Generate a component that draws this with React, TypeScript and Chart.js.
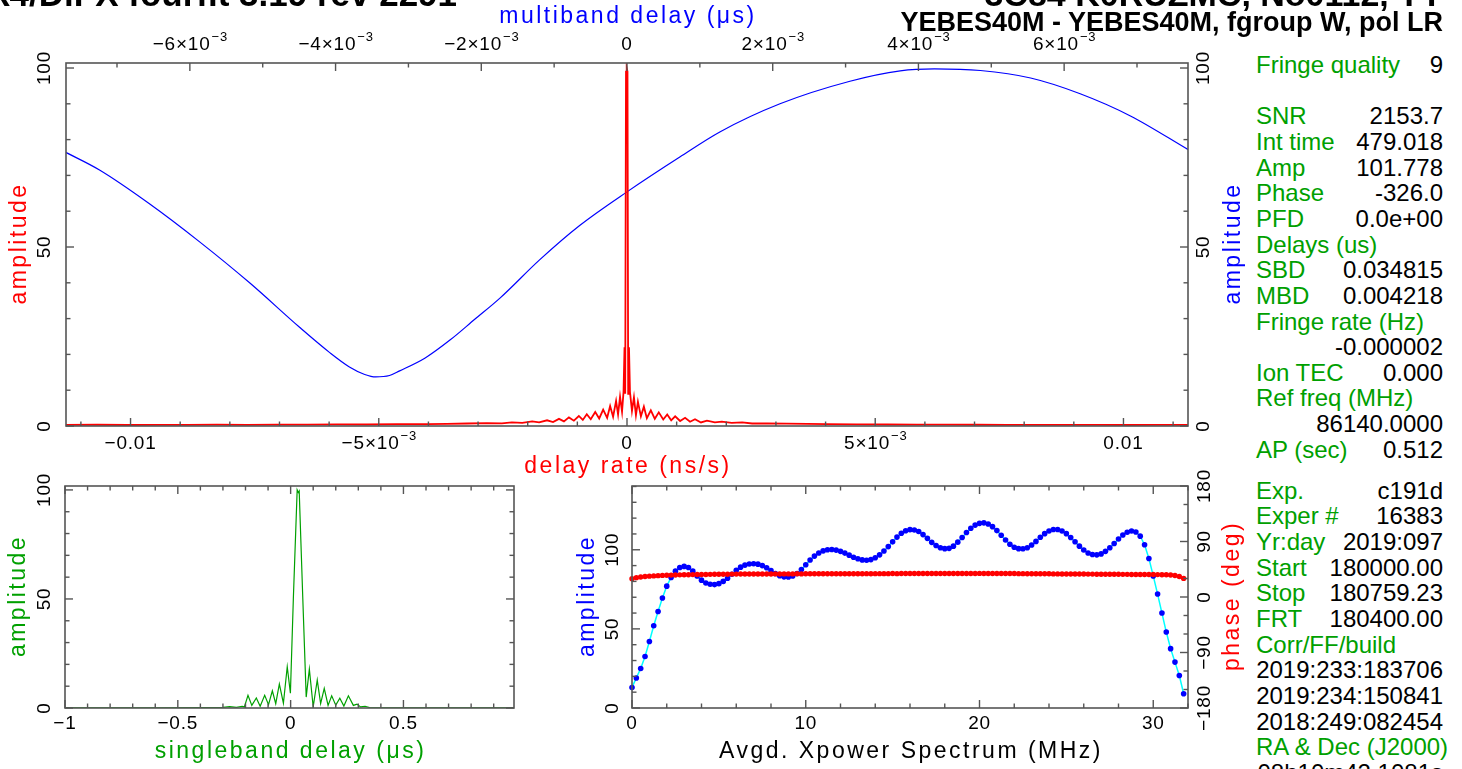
import React, { useEffect, useRef } from "react";
import { Chart, registerables } from "chart.js";

Chart.register(...registerables);

// ---------------- data ----------------
// delay-rate spectrum (ns/s vs amplitude), red
const rateX = [-0.0113, -0.01067, -0.01007, -0.00947, -0.00886, -0.00826, -0.00765, -0.00705, -0.00644, -0.00584, -0.00524, -0.00463, -0.00403, -0.00363, -0.00322, -0.00282, -0.00252, -0.00232, -0.00211, -0.00191, -0.00177, -0.00161, -0.00149, -0.00137, -0.00127, -0.00117, -0.00107, -0.00097, -0.00089, -0.00081, -0.00073, -0.00064, -0.00056, -0.00048, -0.0004, -0.00034, -0.00028, -0.00022, -0.00018, -0.00014, -0.0001, -0.00007, -0.00005, -0.000036, -0.00002, -0.000006, 0.00001, 0.000024, 0.00004, 0.00006, 0.0001, 0.00014, 0.00018, 0.00022, 0.00028, 0.00034, 0.0004, 0.00048, 0.00056, 0.00064, 0.00073, 0.00081, 0.00089, 0.00097, 0.00107, 0.00117, 0.00127, 0.00137, 0.00149, 0.00161, 0.00177, 0.00191, 0.00211, 0.00232, 0.00252, 0.00282, 0.00322, 0.00363, 0.00403, 0.00463, 0.00524, 0.00584, 0.00644, 0.00705, 0.00765, 0.00826, 0.00886, 0.00947, 0.01007, 0.01067, 0.0113];
const rateAmp = [0.3, 0.35, 0.28, 0.33, 0.3, 0.36, 0.32, 0.4, 0.38, 0.45, 0.42, 0.5, 0.55, 0.6, 0.7, 0.8, 0.75, 1.0, 0.9, 1.3, 1.0, 1.6, 1.1, 2.0, 1.3, 2.4, 1.5, 2.8, 1.7, 3.3, 1.9, 3.9, 2.1, 4.6, 2.3, 5.6, 2.6, 7.0, 3.2, 8.2, 4.0, 9.5, 22, 9, 99, 100, 99, 9, 22, 9.5, 4.2, 8.0, 3.0, 6.8, 2.7, 5.4, 2.2, 4.4, 2.0, 3.8, 1.8, 3.2, 1.6, 2.7, 1.4, 2.3, 1.2, 1.9, 1.0, 1.5, 1.0, 1.2, 0.9, 1.0, 0.7, 0.75, 0.65, 0.6, 0.5, 0.48, 0.42, 0.4, 0.36, 0.35, 0.32, 0.33, 0.3, 0.3, 0.28, 0.3, 0.3];

// multiband delay function (µs vs amplitude), blue
const mbdX = [-0.00771, -0.00724, -0.00655, -0.00587, -0.00518, -0.00449, -0.00408, -0.00381, -0.0036, -0.00345, -0.00326, -0.00312, -0.00277, -0.00243, -0.00209, -0.00174, -0.0012, -0.00065, 0, 0.00073, 0.00128, 0.0021, 0.00306, 0.00375, 0.00422, 0.00485, 0.00554, 0.00622, 0.00691, 0.00771];
const mbdAmp = [76.5, 71.5, 62, 51.5, 40, 27.5, 20.5, 16.5, 14.4, 13.7, 14.1, 15.4, 19.0, 24.0, 29.8, 35.8, 46.4, 56, 65.4, 75.2, 82.2, 90, 96.3, 99.2, 99.75, 99.3, 97.2, 92.8, 86.6, 77.1];

// singleband delay function (µs vs amplitude), green
const sbdX = [-1.0, -0.6, -0.4, -0.3, -0.27, -0.24, -0.215, -0.205, -0.189, -0.172, -0.152, -0.135, -0.115, -0.098, -0.081, -0.066, -0.05, -0.032, -0.015, -0.001, 0.012, 0.029, 0.034, 0.038, 0.054, 0.069, 0.083, 0.1, 0.118, 0.133, 0.149, 0.166, 0.182, 0.2, 0.218, 0.236, 0.256, 0.278, 0.294, 0.31, 0.33, 0.35, 0.45, 0.7, 0.99];
const sbdAmp = [0.1, 0.1, 0.2, 0.3, 0.6, 0.3, 0.8, 0.5, 5.8, 1.2, 4.6, 0.8, 5.8, 1.5, 7.9, 2.0, 11.0, 2.2, 18.9, 6.8, 50, 100, 98.8, 99.5, 50, 5, 17.8, 0.6, 12.8, 2, 9, 1.2, 5.6, 1.3, 4.5, 0.9, 5.6, 1.2, 1.8, 0.5, 0.8, 0.2, 0.1, 0.1, 0.1];

// averaged cross-power spectrum, 0.25 MHz bins
const specStep = 0.25;
const specAmp = [
  13, 19, 25, 32.5, 42, 52, 61, 69.5, 77, 82.5, 86.5, 88.8, 89.5, 88.8, 86.5, 83.5,
  80.8, 79, 78.2, 78, 78.6, 80, 82, 84.5, 87, 89, 90.3, 91, 91.2, 90.9, 90, 88.6,
  86.8, 85, 83.6, 82.9, 82.8, 83.5, 85, 87.5, 90.5, 93.5, 96, 98, 99.3, 100, 100.2, 99.8,
  99, 97.9, 96.6, 95.3, 94.3, 93.6, 93.4, 93.8, 95, 96.8, 99.2, 102, 105, 108, 110.4, 112,
  112.7, 112.5, 111.5, 109.6, 107.2, 104.7, 102.7, 101.3, 100.7, 100.9, 102.3, 104.8, 107.8, 110.9, 113.6, 115.6,
  116.7, 117, 116.3, 114.6, 112.1, 109.2, 106.2, 103.5, 101.6, 100.7, 100.6, 101.3, 103, 105.3, 107.9, 110.2,
  111.9, 112.8, 112.8, 111.9, 110.2, 107.8, 105.1, 102.3, 99.9, 98, 97, 96.8, 97.4, 99, 101.3, 104,
  106.8, 109.3, 111.1, 111.9, 111.2, 108.6, 103.2, 94.5, 83.5, 72, 60, 48, 37.5, 29, 20.5, 9
];
const specPhase = [
  29.6, 31.4, 32.5, 33.2, 33.8, 34.2, 34.6, 35.0, 35.3,
  35.5, 35.7, 35.9, 36.0, 36.2, 36.3, 36.4, 36.5, 36.6, 36.7, 36.8, 36.9,
  36.9, 37.0, 37.1, 37.1, 37.2, 37.2, 37.3, 37.3, 37.3, 37.4, 37.4, 37.4, 37.5, 37.4, 37.5, 37.5, 37.5, 37.6, 37.5, 37.6,
  37.6, 37.6, 37.7, 37.6, 37.7, 37.7, 37.7, 37.8, 37.7, 37.8, 37.8, 37.8, 37.8, 37.9, 37.8, 37.9, 37.9, 37.9, 37.9, 38.0,
  37.9, 38.0, 38.0, 38.0, 38.0, 38.1, 38.0, 38.1, 38.1, 38.1, 38.1, 38.1, 38.2, 38.1, 38.2, 38.2, 38.2, 38.2, 38.2, 38.3,
  38.2, 38.2, 38.2, 38.1, 38.1, 38.1, 38.0, 38.0, 37.9, 37.9, 37.8, 37.8, 37.7, 37.7, 37.6, 37.6, 37.5, 37.5, 37.4, 37.4,
  37.3, 37.3, 37.2, 37.2, 37.1, 37.1, 37.0, 37.0, 36.9, 36.9, 36.8, 36.8, 36.7, 36.7, 36.6, 36.6, 36.5, 36.5, 36.4, 36.4,
  36.3, 36.2, 36.1, 35.6, 34.8, 33.3, 30.2
];
const specFreq = specAmp.map((_, i) => i * specStep);

// tick labels ("^" marks a superscript)
const rateTickValues = [-0.01, -0.005, 0, 0.005, 0.01];
const rateTickLabels = ["\u22120.01", "\u22125\u00d710^\u22123", "0", "5\u00d710^\u22123", "0.01"];
const mbdTickValues = [-0.006, -0.004, -0.002, 0, 0.002, 0.004, 0.006];
const mbdTickLabels = ["\u22126\u00d710^\u22123", "\u22124\u00d710^\u22123", "\u22122\u00d710^\u22123", "0", "2\u00d710^\u22123", "4\u00d710^\u22123", "6\u00d710^\u22123"];
const ampTickValues = [0, 50, 100];
const ampTickLabels = ["0", "50", "100"];
const sbdTickValues = [-1, -0.5, 0, 0.5];
const sbdTickLabels = ["\u22121", "\u22120.5", "0", "0.5"];
const freqTickValues = [0, 10, 20, 30];
const freqTickLabels = ["0", "10", "20", "30"];
const phaseTickValues = [-180, -90, 0, 90, 180];
const phaseTickLabels = ["\u2212180", "\u221290", "0", "90", "180"];

// right-hand text panel
const panelLabels = ["Fringe quality", "SNR", "Int time", "Amp", "Phase", "PFD", "Delays (us)", "SBD", "MBD", "Fringe rate (Hz)", "", "Ion TEC", "Ref freq (MHz)", "", "AP (sec)", "Exp.", "Exper #", "Yr:day", "Start", "Stop", "FRT", "Corr/FF/build", "", "", "", "RA & Dec (J2000)", ""];
const panelValues = ["9", "2153.7", "479.018", "101.778", "-326.0", "0.0e+00", "", "0.034815", "0.004218", "", "-0.000002", "0.000", "", "86140.0000", "0.512", "c191d", "16383", "2019:097", "180000.00", "180759.23", "180400.00", "", "2019:233:183706", "2019:234:150841", "2018:249:082454", "", "08h10m42.1081s"];
const panelSlots = [0, 2, 3, 4, 5, 6, 7, 8, 9, 10, 11, 12, 13, 14, 15, 16.6, 17.6, 18.6, 19.6, 20.6, 21.6, 22.6, 23.6, 24.6, 25.6, 26.6, 27.6];

const headerLeft = "Mk4/DiFX fourfit 3.19 rev 2291";
const headerRight1 = "3C84 K0RUZMC, No0112, YY";
const headerRight2 = "YEBES40M - YEBES40M, fgroup W, pol LR";

// ---------------- styles ----------------
const GREEN = "#00a000";
const FRAME = "#555555";
const FONT_FAMILY = '"Liberation Sans", Arial, sans-serif';
const TICK_FONT = "19px " + FONT_FAMILY;
const SUP_FONT = "13px " + FONT_FAMILY;
const TITLE_FONT = "23px " + FONT_FAMILY;

type Edge = "top" | "bottom" | "left" | "right";
type AxisSpec = {
  scale: string;
  edge: Edge;
  major: number;
  minor: number;
  values?: number[];
  labels?: string[];
  labelGap?: number;
  title?: string;
  titleColor?: string;
  titleGap?: number;
};

function drawTickLabel(ctx: CanvasRenderingContext2D, text: string, x: number, y: number, rotate: boolean) {
  const parts = text.split("^");
  const base = parts[0];
  const sup = parts[1];
  ctx.save();
  ctx.translate(x, y);
  if (rotate) ctx.rotate(-Math.PI / 2);
  (ctx as any).letterSpacing = "0.8px";
  ctx.font = TICK_FONT;
  const wb = ctx.measureText(base).width;
  let ws = 0;
  if (sup) {
    ctx.font = SUP_FONT;
    ws = ctx.measureText(sup).width;
  }
  const start = -(wb + ws) / 2;
  ctx.textAlign = "left";
  ctx.textBaseline = "middle";
  ctx.fillStyle = "#000";
  ctx.font = TICK_FONT;
  ctx.fillText(base, start, 1);
  if (sup) {
    ctx.font = SUP_FONT;
    ctx.fillText(sup, start + wb + 1, -7);
  }
  ctx.restore();
}

function drawTitle(ctx: CanvasRenderingContext2D, text: string, x: number, y: number, rotate: boolean, color: string) {
  ctx.save();
  ctx.translate(x, y);
  if (rotate) ctx.rotate(-Math.PI / 2);
  (ctx as any).letterSpacing = "2.5px";
  ctx.font = TITLE_FONT;
  ctx.fillStyle = color;
  ctx.textAlign = "center";
  ctx.textBaseline = "middle";
  ctx.fillText(text, 1, 0);
  ctx.restore();
}

function makeAxesPlugin(id: string, axes: AxisSpec[]) {
  return {
    id,
    afterDraw(chart: any) {
      const ctx: CanvasRenderingContext2D = chart.ctx;
      const a = chart.chartArea;
      ctx.save();
      ctx.strokeStyle = FRAME;
      ctx.lineWidth = 1.6;
      ctx.strokeRect(a.left, a.top, a.right - a.left, a.bottom - a.top);
      for (const ax of axes) {
        const s = chart.scales[ax.scale];
        const k0 = Math.ceil(s.min / ax.minor - 1e-6);
        const k1 = Math.floor(s.max / ax.minor + 1e-6);
        ctx.lineWidth = 1.4;
        for (let k = k0; k <= k1; k++) {
          const v = k * ax.minor;
          const r = v / ax.major;
          const isMajor = Math.abs(r - Math.round(r)) < 1e-6;
          const len = isMajor ? 8 : 4.5;
          const p = s.getPixelForValue(v);
          ctx.beginPath();
          if (ax.edge === "bottom") { ctx.moveTo(p, a.bottom); ctx.lineTo(p, a.bottom - len); }
          else if (ax.edge === "top") { ctx.moveTo(p, a.top); ctx.lineTo(p, a.top + len); }
          else if (ax.edge === "left") { ctx.moveTo(a.left, p); ctx.lineTo(a.left + len, p); }
          else { ctx.moveTo(a.right, p); ctx.lineTo(a.right - len, p); }
          ctx.stroke();
        }
        if (ax.values && ax.labels) {
          const g = ax.labelGap || 16;
          ax.values.forEach((v, i) => {
            const p = s.getPixelForValue(v);
            const t = ax.labels![i];
            if (ax.edge === "bottom") drawTickLabel(ctx, t, p, a.bottom + g, false);
            else if (ax.edge === "top") drawTickLabel(ctx, t, p, a.top - g, false);
            else if (ax.edge === "left") drawTickLabel(ctx, t, a.left - g, p, true);
            else drawTickLabel(ctx, t, a.right + g, p, true);
          });
        }
        if (ax.title) {
          const g = ax.titleGap || 44;
          const cx = (a.left + a.right) / 2;
          const cy = (a.top + a.bottom) / 2;
          const c = ax.titleColor || "#000";
          if (ax.edge === "bottom") drawTitle(ctx, ax.title, cx, a.bottom + g, false, c);
          else if (ax.edge === "top") drawTitle(ctx, ax.title, cx, a.top - g, false, c);
          else if (ax.edge === "left") drawTitle(ctx, ax.title, a.left - g, cy, true, c);
          else drawTitle(ctx, ax.title, a.right + g, cy, true, c);
        }
      }
      ctx.restore();
    },
  };
}

const baseOptions = (padding: any, scales: any) => ({
  responsive: false,
  maintainAspectRatio: false,
  animation: false,
  devicePixelRatio: 1,
  events: [],
  layout: { padding },
  plugins: { legend: { display: false }, tooltip: { enabled: false }, title: { display: false } },
  scales,
});

function mainConfig(): any {
  return {
    type: "line",
    data: {
      datasets: [
        {
          data: rateX.map((x, i) => ({ x, y: rateAmp[i] })),
          xAxisID: "x", yAxisID: "y",
          borderColor: "#ff0000", borderWidth: 1.8, pointRadius: 0, tension: 0, fill: false,
        },
        {
          data: mbdX.map((x, i) => ({ x, y: mbdAmp[i] })),
          xAxisID: "x2", yAxisID: "y2",
          borderColor: "#0000ff", borderWidth: 1.2, pointRadius: 0, cubicInterpolationMode: "monotone", fill: false,
        },
      ],
    },
    options: baseOptions({ left: 66, top: 63, right: 62, bottom: 59 }, {
      x: { type: "linear", display: false, min: -0.0113, max: 0.0113 },
      x2: { type: "linear", display: false, min: -0.0077, max: 0.0077 },
      y: { type: "linear", display: false, min: 0, max: 101.4 },
      y2: { type: "linear", display: false, min: 0, max: 101.4 },
    }),
    plugins: [
      makeAxesPlugin("pgMain", [
        { scale: "x", edge: "bottom", major: 0.005, minor: 0.001, values: rateTickValues, labels: rateTickLabels, labelGap: 17, title: "delay rate (ns/s)", titleColor: "#ff0000", titleGap: 41 },
        { scale: "x2", edge: "top", major: 0.002, minor: 0.001, values: mbdTickValues, labels: mbdTickLabels, labelGap: 19, title: "multiband delay (\u03bcs)", titleColor: "#0000ff", titleGap: 46 },
        { scale: "y", edge: "left", major: 50, minor: 10, values: ampTickValues, labels: ampTickLabels, labelGap: 22, title: "amplitude", titleColor: "#ff0000", titleGap: 46 },
        { scale: "y2", edge: "right", major: 50, minor: 10, values: ampTickValues, labels: ampTickLabels, labelGap: 15, title: "amplitude", titleColor: "#0000ff", titleGap: 46 },
      ]),
    ],
  };
}

function sbdConfig(): any {
  return {
    type: "line",
    data: {
      datasets: [
        {
          data: sbdX.map((x, i) => ({ x, y: sbdAmp[i] })),
          borderColor: GREEN, borderWidth: 1.2, pointRadius: 0, tension: 0, fill: false,
        },
      ],
    },
    options: baseOptions({ left: 65, top: 16, right: 46, bottom: 61 }, {
      x: { type: "linear", display: false, min: -1, max: 0.99 },
      y: { type: "linear", display: false, min: 0, max: 101.8 },
    }),
    plugins: [
      makeAxesPlugin("pgSbd", [
        { scale: "x", edge: "bottom", major: 0.5, minor: 0.1, values: sbdTickValues, labels: sbdTickLabels, labelGap: 15, title: "singleband delay (\u03bcs)", titleColor: GREEN, titleGap: 44 },
        { scale: "x", edge: "top", major: 0.5, minor: 0.1 },
        { scale: "y", edge: "left", major: 50, minor: 10, values: ampTickValues, labels: ampTickLabels, labelGap: 21, title: "amplitude", titleColor: GREEN, titleGap: 46 },
        { scale: "y", edge: "right", major: 50, minor: 10 },
      ]),
    ],
  };
}

function specConfig(): any {
  return {
    type: "line",
    data: {
      datasets: [
        {
          data: specFreq.map((x, i) => ({ x, y: specPhase[i] })),
          yAxisID: "y2",
          showLine: false, pointRadius: 2.7, pointBackgroundColor: "#ff0000", pointBorderColor: "#ff0000", pointBorderWidth: 0,
          clip: false,
        },
        {
          data: specFreq.map((x, i) => ({ x, y: specAmp[i] })),
          yAxisID: "y",
          borderColor: "#00ffff", borderWidth: 1.5, tension: 0, fill: false,
          pointRadius: 2.8, pointBackgroundColor: "#0000ff", pointBorderColor: "#0000ff", pointBorderWidth: 0,
          clip: false,
        },
      ],
    },
    options: baseOptions({ left: 72, top: 16, right: 62, bottom: 61 }, {
      x: { type: "linear", display: false, min: 0, max: 32 },
      y: { type: "linear", display: false, min: 0, max: 140.3 },
      y2: { type: "linear", display: false, min: -180, max: 180 },
    }),
    plugins: [
      makeAxesPlugin("pgSpec", [
        { scale: "x", edge: "bottom", major: 10, minor: 2, values: freqTickValues, labels: freqTickLabels, labelGap: 15, title: "Avgd. Xpower Spectrum (MHz)", titleColor: "#000", titleGap: 44 },
        { scale: "x", edge: "top", major: 10, minor: 2 },
        { scale: "y", edge: "left", major: 50, minor: 10, values: ampTickValues, labels: ampTickLabels, labelGap: 20, title: "amplitude", titleColor: "#0000ff", titleGap: 44 },
        { scale: "y2", edge: "right", major: 90, minor: 30, values: phaseTickValues, labels: phaseTickLabels, labelGap: 16, title: "phase (deg)", titleColor: "#ff0000", titleGap: 45 },
      ]),
    ],
  };
}

function PgChart(props: { left: number; top: number; width: number; height: number; config: () => any }) {
  const ref = useRef<HTMLCanvasElement>(null);
  useEffect(() => {
    const chart = new Chart(ref.current as HTMLCanvasElement, props.config());
    return () => chart.destroy();
  }, []);
  return (
    <canvas
      ref={ref}
      width={props.width}
      height={props.height}
      style={{ position: "absolute", left: props.left, top: props.top, width: props.width, height: props.height }}
    />
  );
}

export default function App() {
  const panelFont = "24px " + FONT_FAMILY;
  return (
    <div style={{ position: "fixed", left: 0, top: 0, width: 1462, height: 769, overflow: "hidden", background: "#fff" }}>
      <PgChart left={0} top={0} width={1250} height={485} config={mainConfig} />
      <PgChart left={0} top={470} width={560} height={299} config={sbdConfig} />
      <PgChart left={560} top={470} width={690} height={299} config={specConfig} />

      <div style={{ position: "absolute", left: -39, top: -24, font: "bold 35px " + FONT_FAMILY, lineHeight: "36px", whiteSpace: "nowrap", color: "#000" }}>{headerLeft}</div>
      <div style={{ position: "absolute", right: 19, top: -24, font: "bold 34px " + FONT_FAMILY, lineHeight: "36px", whiteSpace: "nowrap", color: "#000", textAlign: "right" }}>{headerRight1}</div>
      <div style={{ position: "absolute", right: 19, top: 9, font: "bold 27px " + FONT_FAMILY, lineHeight: "26px", whiteSpace: "nowrap", color: "#000", textAlign: "right" }}>{headerRight2}</div>

      {panelSlots.map((slot, i) => {
        const top = 65 + 25.65 * slot - 13;
        return (
          <React.Fragment key={i}>
            {panelLabels[i] ? (
              <div style={{ position: "absolute", left: 1256, top, font: panelFont, lineHeight: "26px", color: GREEN, whiteSpace: "nowrap" }}>{panelLabels[i]}</div>
            ) : null}
            {panelValues[i] ? (
              <div style={{ position: "absolute", right: 19, top, font: panelFont, lineHeight: "26px", color: "#000", whiteSpace: "nowrap", textAlign: "right" }}>{panelValues[i]}</div>
            ) : null}
          </React.Fragment>
        );
      })}
    </div>
  );
}
